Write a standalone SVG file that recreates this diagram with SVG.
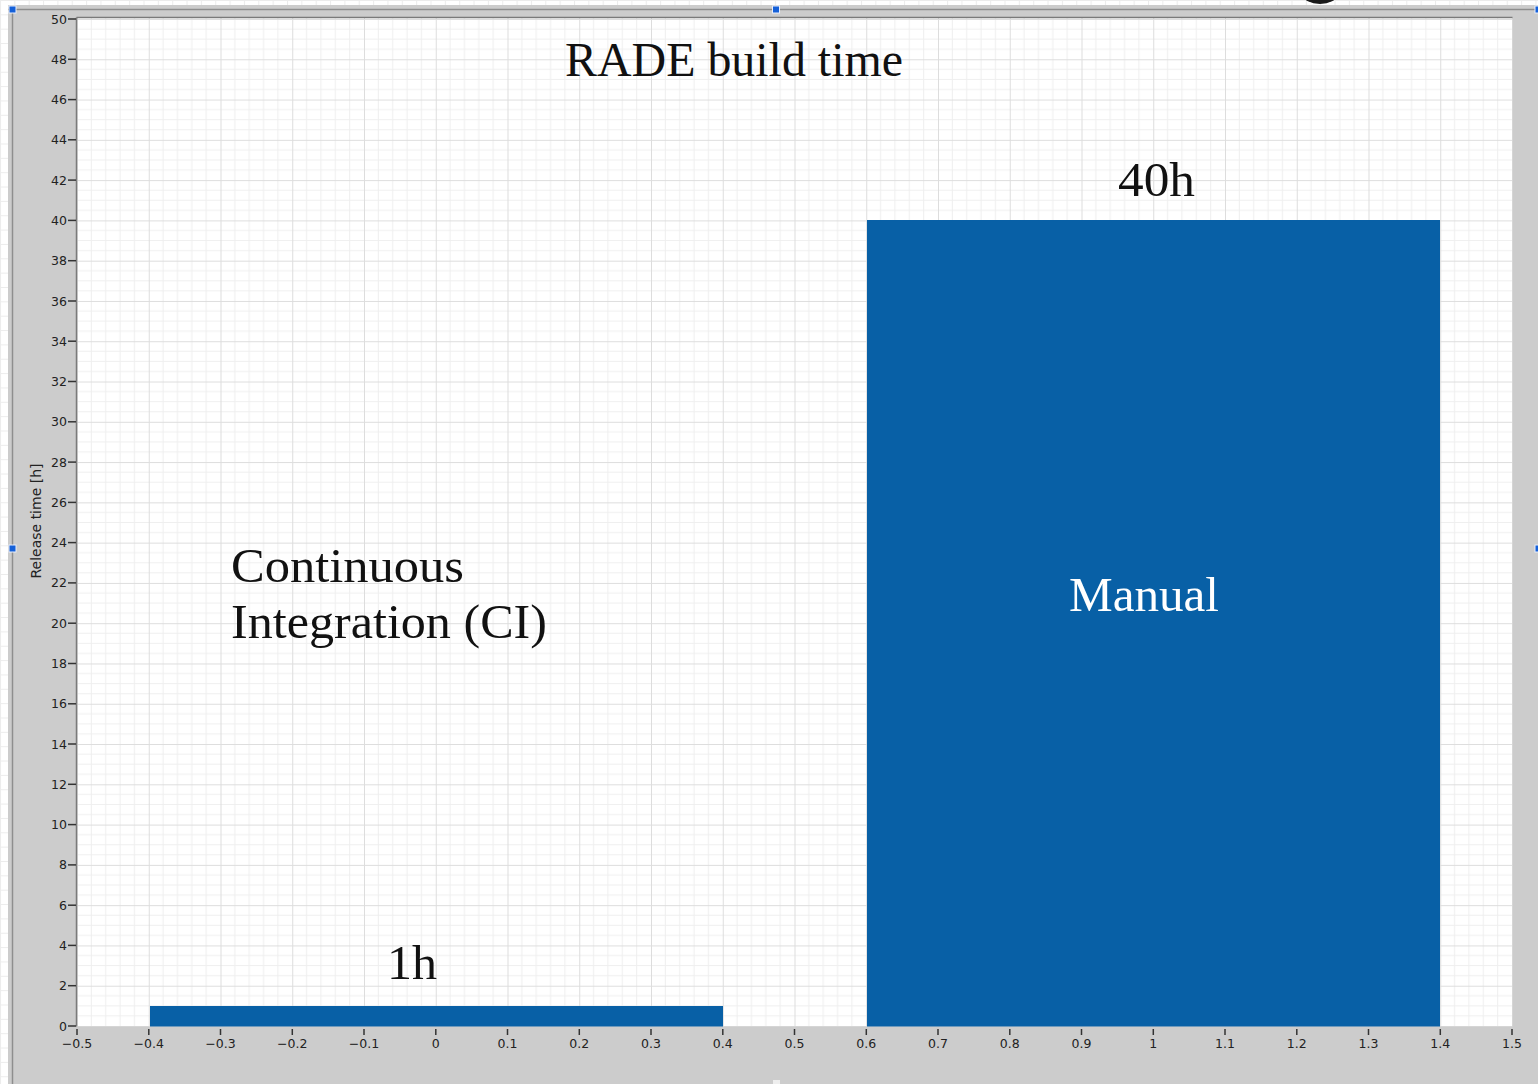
<svg xmlns="http://www.w3.org/2000/svg" width="1538" height="1084" viewBox="0 0 1538 1084">
<style>
.tick{font-family:"DejaVu Sans","Liberation Sans",sans-serif;font-size:12.5px;fill:#222}
.ylab{text-anchor:end}
.xlab{text-anchor:middle}
.big{font-family:"Liberation Serif","DejaVu Serif",serif;font-size:48px;fill:#111}
.tk{stroke:#333;stroke-width:1.5}
.bar{fill:#0860a6}
.handle{fill:#1560d8;stroke:#e8eefc;stroke-width:1}
</style>
<defs>
<pattern id="grid" patternUnits="userSpaceOnUse" x="77" y="19" width="71.75" height="40.28">
<rect width="71.75" height="40.28" fill="#ffffff"/>
<g stroke="#efefef" stroke-width="1">
<line x1="14.35" y1="0" x2="14.35" y2="40.28"/>
<line x1="28.7" y1="0" x2="28.7" y2="40.28"/>
<line x1="43.05" y1="0" x2="43.05" y2="40.28"/>
<line x1="57.4" y1="0" x2="57.4" y2="40.28"/>
<line x1="0" y1="10.07" x2="71.75" y2="10.07"/>
<line x1="0" y1="20.14" x2="71.75" y2="20.14"/>
<line x1="0" y1="30.21" x2="71.75" y2="30.21"/>
</g>
<g stroke="#dddddd" stroke-width="1">
<line x1="0.5" y1="0" x2="0.5" y2="40.28"/>
<line x1="0" y1="0.5" x2="71.75" y2="0.5"/>
</g>
</pattern>
<pattern id="bggrid" patternUnits="userSpaceOnUse" x="0" y="0" width="14.35" height="14.35">
<rect width="14.35" height="14.35" fill="#ffffff"/>
<path d="M0.5 0V14.35M0 0.5H14.35" stroke="#ececec" stroke-width="1" fill="none"/>
</pattern>
</defs>

<g id="background">
<rect x="0" y="0" width="1538" height="1084" fill="url(#bggrid)"/>
<ellipse cx="1320" cy="-5" rx="17" ry="9" fill="#1a1a1a"/>
</g>

<g id="panel">
<rect x="8" y="5" width="1530" height="1079" fill="#cccccc"/>
<line x1="8" y1="9.5" x2="1538" y2="9.5" stroke="#8e8e8e" stroke-width="1.5"/>
<line x1="12.5" y1="9" x2="12.5" y2="1084" stroke="#8e8e8e" stroke-width="1.5"/>
</g>

<g id="plot-area">
<rect x="77" y="18" width="1435.5" height="1008.5" fill="url(#grid)"/>
<line x1="76.5" y1="17.5" x2="1512.5" y2="17.5" stroke="#7a7a7a" stroke-width="1.5"/>
<line x1="76.5" y1="17.5" x2="76.5" y2="1026.5" stroke="#7a7a7a" stroke-width="1.5"/>
</g>

<g id="bar-ci">
<rect class="bar" x="150" y="1006" width="573" height="20.5"/>
</g>
<g id="bar-manual">
<rect class="bar" x="867" y="220" width="573" height="806.5"/>
</g>

<g id="y-axis">
<g class="tk">
<line x1="68" y1="19" x2="76" y2="19"/>
<line x1="68" y1="59.3" x2="76" y2="59.3"/>
<line x1="68" y1="99.6" x2="76" y2="99.6"/>
<line x1="68" y1="139.8" x2="76" y2="139.8"/>
<line x1="68" y1="180.1" x2="76" y2="180.1"/>
<line x1="68" y1="220.4" x2="76" y2="220.4"/>
<line x1="68" y1="260.7" x2="76" y2="260.7"/>
<line x1="68" y1="301" x2="76" y2="301"/>
<line x1="68" y1="341.2" x2="76" y2="341.2"/>
<line x1="68" y1="381.5" x2="76" y2="381.5"/>
<line x1="68" y1="421.8" x2="76" y2="421.8"/>
<line x1="68" y1="462.1" x2="76" y2="462.1"/>
<line x1="68" y1="502.4" x2="76" y2="502.4"/>
<line x1="68" y1="542.6" x2="76" y2="542.6"/>
<line x1="68" y1="582.9" x2="76" y2="582.9"/>
<line x1="68" y1="623.2" x2="76" y2="623.2"/>
<line x1="68" y1="663.5" x2="76" y2="663.5"/>
<line x1="68" y1="703.8" x2="76" y2="703.8"/>
<line x1="68" y1="744" x2="76" y2="744"/>
<line x1="68" y1="784.3" x2="76" y2="784.3"/>
<line x1="68" y1="824.6" x2="76" y2="824.6"/>
<line x1="68" y1="864.9" x2="76" y2="864.9"/>
<line x1="68" y1="905.2" x2="76" y2="905.2"/>
<line x1="68" y1="945.4" x2="76" y2="945.4"/>
<line x1="68" y1="985.7" x2="76" y2="985.7"/>
<line x1="68" y1="1026" x2="76" y2="1026"/>
</g>
<g class="tick ylab">
<text x="67" y="23.5">50</text>
<text x="67" y="63.8">48</text>
<text x="67" y="104.1">46</text>
<text x="67" y="144.3">44</text>
<text x="67" y="184.6">42</text>
<text x="67" y="224.9">40</text>
<text x="67" y="265.2">38</text>
<text x="67" y="305.5">36</text>
<text x="67" y="345.7">34</text>
<text x="67" y="386">32</text>
<text x="67" y="426.3">30</text>
<text x="67" y="466.6">28</text>
<text x="67" y="506.9">26</text>
<text x="67" y="547.1">24</text>
<text x="67" y="587.4">22</text>
<text x="67" y="627.7">20</text>
<text x="67" y="668">18</text>
<text x="67" y="708.3">16</text>
<text x="67" y="748.5">14</text>
<text x="67" y="788.8">12</text>
<text x="67" y="829.1">10</text>
<text x="67" y="869.4">8</text>
<text x="67" y="909.7">6</text>
<text x="67" y="949.9">4</text>
<text x="67" y="990.2">2</text>
<text x="67" y="1030.5">0</text>
</g>
<text class="tick" transform="translate(41 521) rotate(-90)" text-anchor="middle" style="font-size:14px">Release time [h]</text>
</g>

<g id="x-axis">
<g class="tk">
<line x1="77" y1="1029" x2="77" y2="1035"/>
<line x1="148.8" y1="1029" x2="148.8" y2="1035"/>
<line x1="220.5" y1="1029" x2="220.5" y2="1035"/>
<line x1="292.3" y1="1029" x2="292.3" y2="1035"/>
<line x1="364" y1="1029" x2="364" y2="1035"/>
<line x1="435.8" y1="1029" x2="435.8" y2="1035"/>
<line x1="507.5" y1="1029" x2="507.5" y2="1035"/>
<line x1="579.3" y1="1029" x2="579.3" y2="1035"/>
<line x1="651" y1="1029" x2="651" y2="1035"/>
<line x1="722.8" y1="1029" x2="722.8" y2="1035"/>
<line x1="794.5" y1="1029" x2="794.5" y2="1035"/>
<line x1="866.3" y1="1029" x2="866.3" y2="1035"/>
<line x1="938" y1="1029" x2="938" y2="1035"/>
<line x1="1009.8" y1="1029" x2="1009.8" y2="1035"/>
<line x1="1081.5" y1="1029" x2="1081.5" y2="1035"/>
<line x1="1153.3" y1="1029" x2="1153.3" y2="1035"/>
<line x1="1225" y1="1029" x2="1225" y2="1035"/>
<line x1="1296.8" y1="1029" x2="1296.8" y2="1035"/>
<line x1="1368.5" y1="1029" x2="1368.5" y2="1035"/>
<line x1="1440.3" y1="1029" x2="1440.3" y2="1035"/>
<line x1="1512" y1="1029" x2="1512" y2="1035"/>
</g>
<g class="tick xlab">
<text x="77" y="1048">−0.5</text>
<text x="148.8" y="1048">−0.4</text>
<text x="220.5" y="1048">−0.3</text>
<text x="292.3" y="1048">−0.2</text>
<text x="364" y="1048">−0.1</text>
<text x="435.8" y="1048">0</text>
<text x="507.5" y="1048">0.1</text>
<text x="579.3" y="1048">0.2</text>
<text x="651" y="1048">0.3</text>
<text x="722.8" y="1048">0.4</text>
<text x="794.5" y="1048">0.5</text>
<text x="866.3" y="1048">0.6</text>
<text x="938" y="1048">0.7</text>
<text x="1009.8" y="1048">0.8</text>
<text x="1081.5" y="1048">0.9</text>
<text x="1153.3" y="1048">1</text>
<text x="1225" y="1048">1.1</text>
<text x="1296.8" y="1048">1.2</text>
<text x="1368.5" y="1048">1.3</text>
<text x="1440.3" y="1048">1.4</text>
<text x="1512" y="1048">1.5</text>
</g>
</g>

<g id="labels">
<text id="title" class="big" x="565" y="76" textLength="338" lengthAdjust="spacingAndGlyphs">RADE build time</text>
<text id="label-40h" class="big" x="1118" y="196" textLength="77" lengthAdjust="spacingAndGlyphs">40h</text>
<text id="label-manual" class="big" x="1069" y="611" textLength="150" lengthAdjust="spacingAndGlyphs" style="fill:#ffffff">Manual</text>
<text id="label-ci-1" class="big" x="231" y="582" textLength="233" lengthAdjust="spacingAndGlyphs">Continuous</text>
<text id="label-ci-2" class="big" x="231" y="638" textLength="316" lengthAdjust="spacingAndGlyphs">Integration (CI)</text>
<text id="label-1h" class="big" x="387" y="979" textLength="50" lengthAdjust="spacingAndGlyphs">1h</text>
</g>

<g id="handles">
<rect class="handle" x="9" y="6" width="7" height="7"/>
<rect class="handle" x="772.5" y="6" width="7" height="7"/>
<rect class="handle" x="1535" y="6" width="7" height="7"/>
<rect class="handle" x="9" y="545" width="7" height="7"/>
<rect class="handle" x="1535" y="545" width="7" height="7"/>
<rect x="773" y="1080" width="7" height="7" fill="#eeeeee"/>
</g>
</svg>
